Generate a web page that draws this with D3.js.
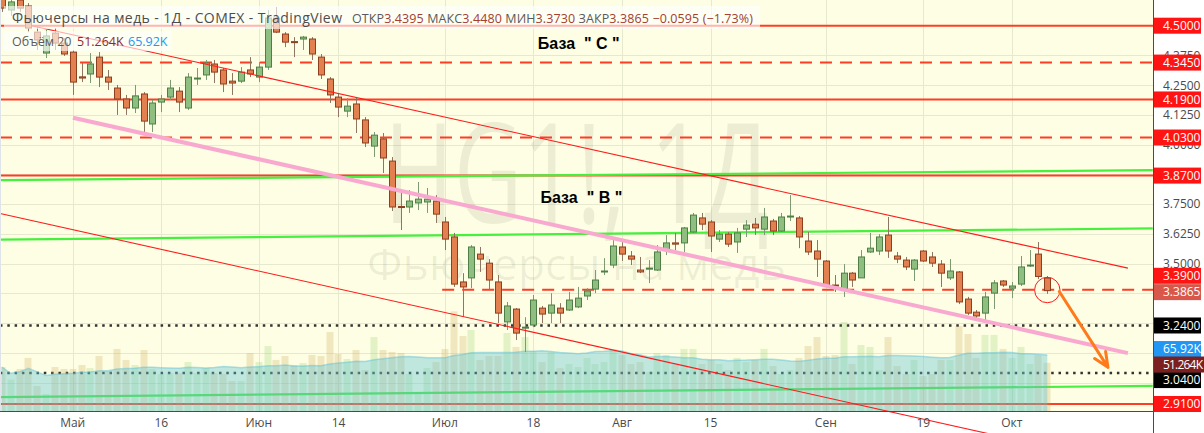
<!DOCTYPE html>
<html><head><meta charset="utf-8">
<script src="https://cdn.jsdelivr.net/npm/d3@7"></script>
<style>html,body{margin:0;padding:0;background:#fff;}svg{display:block;}</style>
</head><body>
<svg id="c" width="1204" height="433"></svg>
<script>
// ---------------- DATA ----------------
const dates = ["2022-04-20","2022-04-21","2022-04-22","2022-04-25","2022-04-26","2022-04-27","2022-04-28","2022-04-29",
"2022-05-02","2022-05-03","2022-05-04","2022-05-05","2022-05-06","2022-05-09","2022-05-10","2022-05-11","2022-05-12","2022-05-13",
"2022-05-16","2022-05-17","2022-05-18","2022-05-19","2022-05-20","2022-05-23","2022-05-24","2022-05-25","2022-05-26","2022-05-27","2022-05-31",
"2022-06-01","2022-06-02","2022-06-03","2022-06-06","2022-06-07","2022-06-08","2022-06-09","2022-06-10","2022-06-13","2022-06-14","2022-06-15","2022-06-16","2022-06-17","2022-06-21","2022-06-22","2022-06-23","2022-06-24","2022-06-27","2022-06-28","2022-06-29","2022-06-30",
"2022-07-01","2022-07-05","2022-07-06","2022-07-07","2022-07-08","2022-07-11","2022-07-12","2022-07-13","2022-07-14","2022-07-15","2022-07-18","2022-07-19","2022-07-20","2022-07-21","2022-07-22","2022-07-25","2022-07-26","2022-07-27","2022-07-28","2022-07-29",
"2022-08-01","2022-08-02","2022-08-03","2022-08-04","2022-08-05","2022-08-08","2022-08-09","2022-08-10","2022-08-11","2022-08-12","2022-08-15","2022-08-16","2022-08-17","2022-08-18","2022-08-19","2022-08-22","2022-08-23","2022-08-24","2022-08-25","2022-08-26","2022-08-29","2022-08-30","2022-08-31",
"2022-09-01","2022-09-02","2022-09-06","2022-09-07","2022-09-08","2022-09-09","2022-09-12","2022-09-13","2022-09-14","2022-09-15","2022-09-16","2022-09-19","2022-09-20","2022-09-21","2022-09-22","2022-09-23","2022-09-26","2022-09-27","2022-09-28","2022-09-29","2022-09-30",
"2022-10-03","2022-10-04","2022-10-05","2022-10-06","2022-10-07"];

const open = [4.616,4.566,4.608,4.583,4.473,4.385,4.469,4.427,
4.389,4.285,4.297,4.368,4.284,4.238,4.192,4.154,4.213,4.087,
4.179,4.200,4.225,4.154,4.276,4.293,4.339,4.314,4.267,4.267,4.314,
4.284,4.326,4.532,4.465,4.433,4.444,4.444,4.368,4.276,4.200,4.141,4.171,4.104,3.994,4.024,3.931,3.740,3.738,3.755,3.759,3.763,
3.675,3.612,3.423,3.440,3.540,3.502,3.423,3.255,3.309,3.229,3.242,3.313,3.292,3.313,3.305,3.318,3.364,3.393,3.465,3.494,
3.570,3.532,3.473,3.477,3.473,3.557,3.587,3.587,3.633,3.692,3.675,3.603,3.624,3.591,3.645,3.666,3.645,3.679,3.637,3.696,3.692,3.595,3.553,
3.511,3.410,3.393,3.460,3.440,3.549,3.553,3.620,3.532,3.515,3.477,3.553,3.528,3.498,3.440,3.465,3.351,3.296,3.292,3.376,3.427,
3.397,3.414,3.490,3.540,3.4395];
const high = [4.642,4.625,4.629,4.595,4.495,4.482,4.490,4.448,
4.398,4.343,4.385,4.389,4.314,4.251,4.209,4.251,4.221,4.188,
4.209,4.272,4.242,4.301,4.322,4.356,4.356,4.322,4.301,4.326,4.368,
4.347,4.566,4.579,4.473,4.452,4.457,4.452,4.381,4.284,4.217,4.196,4.196,4.116,4.053,4.049,3.948,3.797,3.809,3.843,3.818,3.788,
3.696,3.629,3.460,3.578,3.570,3.519,3.452,3.339,3.313,3.275,3.368,3.322,3.376,3.334,3.381,3.402,3.397,3.473,3.523,3.599,
3.591,3.553,3.528,3.515,3.578,3.620,3.629,3.654,3.713,3.713,3.683,3.641,3.633,3.650,3.683,3.692,3.734,3.688,3.713,3.788,3.700,3.633,3.599,
3.515,3.452,3.498,3.465,3.557,3.629,3.624,3.696,3.549,3.528,3.519,3.557,3.549,3.515,3.519,3.469,3.360,3.305,3.381,3.431,3.431,
3.423,3.532,3.557,3.591,3.448];
const low = [4.558,4.541,4.558,4.473,4.398,4.364,4.398,4.373,
4.209,4.263,4.259,4.242,4.230,4.125,4.125,4.133,4.053,4.053,
4.137,4.188,4.137,4.146,4.251,4.272,4.259,4.221,4.209,4.259,4.284,
4.263,4.314,4.469,4.410,4.368,4.398,4.356,4.276,4.175,4.116,4.116,4.049,3.990,3.948,3.881,3.721,3.641,3.713,3.725,3.713,3.671,
3.557,3.402,3.276,3.397,3.465,3.389,3.250,3.221,3.179,3.128,3.233,3.250,3.250,3.250,3.301,3.313,3.347,3.376,3.452,3.481,
3.511,3.494,3.460,3.418,3.469,3.536,3.557,3.549,3.629,3.641,3.549,3.591,3.570,3.545,3.612,3.620,3.620,3.620,3.633,3.679,3.565,3.536,3.444,
3.402,3.381,3.360,3.402,3.440,3.545,3.536,3.524,3.502,3.473,3.427,3.507,3.486,3.402,3.431,3.330,3.284,3.271,3.263,3.309,3.402,
3.355,3.406,3.486,3.435,3.373];
const close = [4.574,4.600,4.574,4.490,4.440,4.457,4.427,4.381,
4.263,4.280,4.339,4.284,4.263,4.192,4.154,4.205,4.099,4.175,
4.192,4.238,4.179,4.284,4.280,4.343,4.305,4.255,4.259,4.305,4.297,
4.326,4.532,4.473,4.431,4.431,4.452,4.381,4.293,4.209,4.158,4.162,4.108,4.007,4.040,3.944,3.738,3.736,3.763,3.771,3.771,3.708,
3.603,3.414,3.402,3.570,3.519,3.431,3.292,3.322,3.208,3.233,3.347,3.288,3.326,3.292,3.347,3.355,3.385,3.431,3.469,3.574,
3.540,3.519,3.465,3.481,3.549,3.587,3.582,3.650,3.704,3.666,3.616,3.624,3.582,3.629,3.662,3.650,3.696,3.637,3.696,3.700,3.612,3.549,3.519,
3.406,3.406,3.460,3.431,3.528,3.565,3.612,3.553,3.519,3.486,3.515,3.511,3.502,3.460,3.469,3.339,3.292,3.280,3.360,3.419,3.410,
3.406,3.486,3.494,3.446,3.3865];
// volume, thousands of contracts
const volume = [46.8,33.4,44.7,56.4,26.6,18.1,46.8,44.7,
44.7,48.9,45.7,58.5,42.6,66.0,54.3,48.9,64.9,44.7,
39.4,40.4,40.4,52.1,40.4,45.7,40.4,39.4,31.9,31.9,61.7,
52.1,69.1,54.3,58.5,48.9,51.1,59.6,58.5,84.0,60.6,55.3,64.9,43.6,78.7,64.9,62.8,61.7,39.4,20.2,45.7,52.1,
66.0,106.0,79.8,86.2,54.3,58.5,58.5,83.0,68.1,78.7,63.8,52.1,62.8,45.7,50.0,46.8,56.4,50.0,52.1,66.0,
59.6,50.0,52.1,41.5,61.7,59.6,50.0,66.0,66.0,50.0,54.3,50.0,43.6,56.4,52.1,54.3,66.0,47.9,39.4,43.6,56.4,69.1,78.7,
58.5,59.6,94.7,50.0,70.2,68.1,43.6,78.7,47.9,39.4,54.3,37.2,39.4,54.3,54.3,90.4,81.9,56.4,80.9,80.9,66.0,
56.4,68.1,50.0,59.6,51.264];
const volumeMA20Last = 65.92;

const yTicks = [4.375,4.25,4.125,4.0,3.875,3.75,3.625,3.5,3.375,3.25,3.125,3.0];
const xTickDates = ["2022-05-02","2022-05-16","2022-06-01","2022-06-14","2022-07-01","2022-07-18","2022-08-01","2022-08-15","2022-09-01","2022-09-19","2022-10-03"];
const xTickLabels = ["Май","16","Июн","14","Июл","18","Авг","15","Сен","19","Окт"];

// horizontal price levels drawn by the author
const levelValues = [4.5,4.345,4.19,4.03,3.87,3.39,3.24,3.04,2.91];
// trend drawings: [bar index, price]
const channelUpper = [[3.5,4.499],[127.1,3.481]];
const channelLower = [[-0.2,3.711],[112,2.780]];
const pinkLine = [[8.03,4.113],[127.1,3.124]];
const greenLines = [[[-0.2,3.851],[129.9,3.893]],[[-0.2,3.601],[129.9,3.648]],[[-0.2,2.939],[129.9,2.986]]];
const circleAt = [118,3.389];
const arrowPts = [[119.35,3.383],[124.85,3.064]];
const notes = [{t:'База  " С "', at:[60.5,4.402]},{t:'База  " В "', at:[60.8,3.755]}];

const title = "Фьючерсы на медь - 1Д - COMEX - TradingView";
const wm1 = "HG1!, 1Д", wm2 = "Фьючерсы на медь";

// ---------------- LAYOUT ----------------
const W=1204, H=433, plotR=1153, plotB=411;
const step=8.86;
const n=dates.length;
const bandStart = 72.7 - 8*step - step/2;
const FONT = "'Open Sans', sans-serif";

const xBand = d3.scaleBand().domain(dates).range([bandStart, bandStart + step*n]).padding(0);
const xIdx = d3.scaleLinear().domain([0, n-1]).range([xBand(dates[0])+step/2, xBand(dates[n-1])+step/2]);
const y = d3.scaleLinear().domain([2.91,4.5]).range([404,25.7]);
const yVol = d3.scaleLinear().domain([0,100]).range([plotB, plotB-94]);

const svg = d3.select('#c');
const defs = svg.append('defs');
defs.append('clipPath').attr('id','plotClip').append('rect').attr('x',0).attr('y',0).attr('width',plotR).attr('height',plotB);
defs.append('clipPath').attr('id','drawClip').append('rect').attr('x',0).attr('y',0).attr('width',plotR).attr('height',H);

// backgrounds
svg.append('rect').attr('width',W).attr('height',H).attr('fill','#ffffff');
svg.append('rect').attr('x',0).attr('y',0).attr('width',plotR).attr('height',plotB).attr('fill','#fdfee3');

// grid
const grid = svg.append('g').attr('clip-path','url(#plotClip)');
grid.selectAll('line.h').data(yTicks).join('line')
  .attr('x1',0).attr('x2',plotR).attr('y1',d=>Math.round(y(d))+0.5).attr('y2',d=>Math.round(y(d))+0.5)
  .attr('stroke','#e7e9cf').attr('stroke-width',1);
grid.selectAll('line.v').data(xTickDates).join('line')
  .attr('x1',d=>Math.round(xBand(d)+step/2)+0.5).attr('x2',d=>Math.round(xBand(d)+step/2)+0.5)
  .attr('y1',0).attr('y2',plotB).attr('stroke','#e7e9cf').attr('stroke-width',1);

// watermark
const wm = svg.append('g').attr('fill','rgba(0,0,0,0.065)').attr('font-family',FONT).attr('text-anchor','middle');
wm.append('text').attr('x',plotR/2).attr('y',223).attr('font-size',140).attr('textLength',385).attr('lengthAdjust','spacingAndGlyphs').text(wm1);
wm.append('text').attr('x',plotR/2).attr('y',280).attr('font-size',44).attr('textLength',419).attr('lengthAdjust','spacingAndGlyphs').text(wm2);

// level lines (under volume)
const levelStyle = {
  4.5:{c:'#ff3d24',dash:null,w:2}, 4.345:{c:'#ff3d24',dash:'12,8',w:2}, 4.19:{c:'#ff3d24',dash:null,w:2},
  4.03:{c:'#ff3d24',dash:'12,8',w:2}, 3.87:{c:'#ff3d24',dash:null,w:2}, 3.39:{c:'#ff3d24',dash:'12,8',w:2,start:49.7},
  3.24:{c:'#333333',dash:'2.5,4.8',w:2.5}, 3.04:{c:'#333333',dash:'2.5,4.8',w:2.5}, 2.91:{c:'#ff3d24',dash:null,w:2}
};
const gl = svg.append('g').attr('clip-path','url(#plotClip)');
gl.selectAll('line').data(levelValues).join('line')
  .attr('x1',d=> levelStyle[d].start!==undefined ? xIdx(levelStyle[d].start) : 0)
  .attr('x2',plotR).attr('y1',d=>y(d)).attr('y2',d=>y(d))
  .attr('stroke',d=>levelStyle[d].c).attr('stroke-width',d=>levelStyle[d].w)
  .attr('stroke-dasharray',d=>levelStyle[d].dash);

// green trend lines (under volume)
const lineGen = d3.line().x(p=>xIdx(p[0])).y(p=>y(p[1]));
gl.selectAll('path.green').data(greenLines).join('path').attr('class','green')
  .attr('d',lineGen).attr('stroke','#46f03c').attr('stroke-width',2.2).attr('fill','none');

// volume
const bars = dates.map((d,i)=>({d,i,o:open[i],h:high[i],l:low[i],c:close[i],v:volume[i]}));
const gv = svg.append('g').attr('clip-path','url(#plotClip)');
gv.selectAll('rect').data(bars).join('rect')
  .attr('x',b=>Math.round(xBand(b.d)+step/2)-3.5).attr('width',7)
  .attr('y',b=>yVol(b.v)).attr('height',b=>plotB-yVol(b.v))
  .attr('fill',b=> b.c>=b.o ? 'rgba(130,200,90,0.22)' : 'rgba(200,160,80,0.24)');
// 20-bar volume moving average (area)
const ma = bars.map((b,i)=>{const s=volume.slice(Math.max(0,i-19),i+1);return d3.mean(s);});
const area = d3.area().x((v,i)=>xBand(dates[i])+step/2).y0(plotB).y1(v=>yVol(v));
gv.append('path').datum(ma).attr('d',area).attr('fill','rgba(90,195,215,0.38)');
gv.append('path').datum(ma).attr('d',d3.line().x((v,i)=>xBand(dates[i])+step/2).y(v=>yVol(v)))
  .attr('fill','none').attr('stroke','rgba(90,190,215,0.45)').attr('stroke-width',1.5);

// candles
const gc = svg.append('g').attr('clip-path','url(#plotClip)');
const cx = b=>Math.round(xBand(b.d)+step/2);
gc.selectAll('line').data(bars).join('line')
  .attr('x1',b=>cx(b)+0.5).attr('x2',b=>cx(b)+0.5).attr('y1',b=>y(b.h)).attr('y2',b=>y(b.l))
  .attr('stroke',b=>b.c>=b.o?'#7e9a72':'#8f7663').attr('stroke-width',1);
gc.selectAll('rect').data(bars).join('rect')
  .attr('x',b=>cx(b)-2.5).attr('width',6)
  .attr('y',b=>y(Math.max(b.o,b.c))).attr('height',b=>Math.max(1,Math.abs(y(b.o)-y(b.c))))
  .attr('fill',b=>b.c>=b.o?'#8fbf80':'#e3804f')
  .attr('stroke',b=>b.c>=b.o?'#4f7f46':'#8e3f1f').attr('stroke-width',1);

// time-axis background
svg.append('rect').attr('x',0).attr('y',plotB).attr('width',plotR).attr('height',H-plotB).attr('fill','#ffffff');

// drawings above candles
const gd = svg.append('g').attr('clip-path','url(#drawClip)');
gd.append('path').datum(pinkLine).attr('d',lineGen).attr('stroke','#f9a8cf').attr('stroke-width',4).attr('fill','none');
gd.append('path').datum(channelUpper).attr('d',lineGen).attr('stroke','#ff1a1a').attr('stroke-width',1.1).attr('fill','none');
gd.append('path').datum(channelLower).attr('d',lineGen).attr('stroke','#ff1a1a').attr('stroke-width',1.1).attr('fill','none');
gd.append('circle').attr('cx',xIdx(circleAt[0])).attr('cy',y(circleAt[1])).attr('r',12.7)
  .attr('fill','none').attr('stroke','#ff1a1a').attr('stroke-width',1);
// arrow
{
  const x1=xIdx(arrowPts[0][0]), y1=y(arrowPts[0][1]), x2=xIdx(arrowPts[1][0]), y2=y(arrowPts[1][1]);
  const ang=Math.atan2(y2-y1,x2-x1), L=16, sp=0.42;
  const a1=[x2-L*Math.cos(ang-sp), y2-L*Math.sin(ang-sp)], a2=[x2-L*Math.cos(ang+sp), y2-L*Math.sin(ang+sp)];
  gd.append('path').attr('d',`M${x1},${y1}L${x2},${y2}M${a1[0]},${a1[1]}L${x2},${y2}L${a2[0]},${a2[1]}`)
    .attr('stroke','#ff7a1a').attr('stroke-width',3).attr('fill','none').attr('stroke-linecap','round').attr('stroke-linejoin','round');
}
gd.selectAll('text.note').data(notes).join('text').attr('class','note')
  .attr('x',d=>xIdx(d.at[0])).attr('y',d=>y(d.at[1])).attr('font-family',"'Liberation Sans', Arial, sans-serif")
  .attr('font-weight','bold').attr('font-size',16).attr('fill','#000').style('white-space','pre').text(d=>d.t);

// axes lines
svg.append('line').attr('x1',0).attr('x2',plotR).attr('y1',plotB+0.5).attr('y2',plotB+0.5).attr('stroke','#4a4a4a');
svg.append('line').attr('x1',plotR+0.5).attr('x2',plotR+0.5).attr('y1',0).attr('y2',H).attr('stroke','#4a4a4a');
svg.append('line').attr('x1',0.5).attr('x2',0.5).attr('y1',0).attr('y2',plotB).attr('stroke','#dfe3ea');

// x axis
const gx = svg.append('g').attr('transform',`translate(0,${plotB})`)
  .call(d3.axisBottom(xBand).tickValues(xTickDates).tickFormat((d,i)=>xTickLabels[i]).tickSize(0).tickPadding(7.5));
gx.select('.domain').remove();
gx.attr('font-family',FONT).attr('font-size',12);
gx.selectAll('text').attr('fill','#4a4a4a');

// y axis
const gy = svg.append('g').attr('transform',`translate(${plotR},0)`)
  .call(d3.axisRight(y).tickValues(yTicks).tickFormat(d3.format('.4f')).tickSize(0).tickPadding(10));
gy.select('.domain').remove();
gy.attr('font-family',FONT).attr('font-size',12);
gy.selectAll('text').attr('fill','#4a4a4a');

// right-axis labels
const fmt4 = d3.format('.4f');
const last = n-1;
const labelColor = {4.5:'#ff1414',4.345:'#ff1414',4.19:'#ff1414',4.03:'#ff1414',3.87:'#ff1414',3.39:'#ff1414',3.24:'#000000',3.04:'#000000',2.91:'#ff1414'};
const labelNudge = {'3.3900':-14,'3.3865':1.5,'51.264K':1.7,'3.0400':7};
const labels = levelValues.map(v=>({t:fmt4(v), y:y(v), c:labelColor[v]}));
labels.push({t:fmt4(close[last]), y:y(close[last]), c:'#d9574a'});
labels.push({t:d3.format('.2f')(volumeMA20Last)+'K', y:yVol(volumeMA20Last), c:'#2196f3'});
labels.push({t:d3.format('.3f')(volume[last])+'K', y:yVol(volume[last]), c:'#7d1f1f', wide:true});
const gla = svg.append('g').attr('font-family',FONT).attr('font-size',12);
labels.forEach(l=>{
  const yy = l.y + (labelNudge[l.t]||0);
  gla.append('rect').attr('x',plotR+1).attr('y',yy-8).attr('width',l.wide?W-plotR-1:47).attr('height',16).attr('fill',l.c);
  gla.append('text').attr('x',plotR+10).attr('y',yy).attr('dy','0.35em').attr('fill','#fff').text(l.t)
    .attr('textLength', l.wide?40:null);
});

// header
const hdr = svg.append('g').attr('font-family',FONT);
hdr.append('rect').attr('x',4).attr('y',6).attr('width',756).attr('height',23).attr('fill','rgba(255,255,255,0.62)');
hdr.append('rect').attr('x',4).attr('y',31).attr('width',168).attr('height',20).attr('fill','rgba(255,255,255,0.62)');
hdr.append('text').attr('x',12).attr('y',22.5).attr('font-size',14).attr('fill','#4d4d4d')
  .attr('textLength',330).attr('lengthAdjust','spacing').text(title);
const chg = close[last]-close[last-1], pct = chg/close[last-1]*100;
const ohlcParts = [["ОТКР",0],[fmt4(open[last]),1],[" МАКС",0],[fmt4(high[last]),1],[" МИН",0],[fmt4(low[last]),1],[" ЗАКР",0],[fmt4(close[last]),1],
  [" "+d3.format('.4f')(chg)+" ("+d3.format('.2f')(pct)+"%)",1]];
const ohlc = hdr.append('text').attr('x',352).attr('y',22.5).attr('font-size',12.5)
  .attr('textLength',401).attr('lengthAdjust','spacing').style('white-space','pre');
ohlcParts.forEach(p=>ohlc.append('tspan').attr('fill',p[1]?'#a3402f':'#5a5a5a').text(p[0]));
hdr.append('text').attr('x',12).attr('y',46).attr('font-size',12.5).attr('fill','#5a5a5a').text("Объём 20");
hdr.append('text').attr('x',77).attr('y',46).attr('font-size',12.5).attr('fill','#8e2a2a').text(d3.format('.3f')(volume[last])+'K');
hdr.append('text').attr('x',128).attr('y',46).attr('font-size',12.5).attr('fill','#2196f3').text(d3.format('.2f')(volumeMA20Last)+'K');
</script>
</body></html>
